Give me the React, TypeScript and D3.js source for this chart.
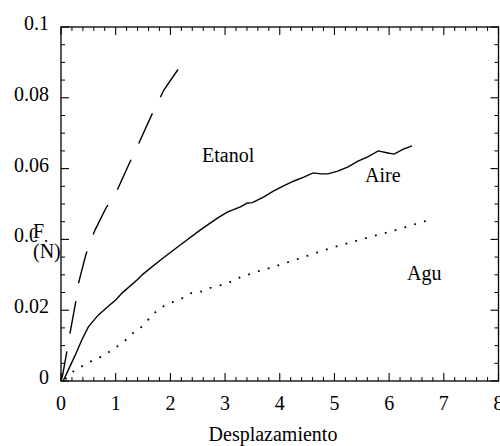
import React from "react";
import * as d3 from "d3";

const W = 500;
const H = 446;

const xTickLabels = ["0", "1", "2", "3", "4", "5", "6", "7", "8"];
const yTickValues = [0, 0.02, 0.04, 0.06, 0.08, 0.1];
const yTickLabels = ["0", "0.02", "0.04", "0.06", "0.08", "0.1"];

// Etanol (dashed)
const etanolX = [0.0, 0.024, 0.123, 0.165, 0.27, 0.306, 0.453, 0.55, 0.624, 0.82, 1.01, 1.25, 1.4, 1.65, 1.8, 1.88, 2.14];
const etanolY = [0.0, 0.0012, 0.0097, 0.0135, 0.0224, 0.0268, 0.0356, 0.04, 0.0427, 0.0488, 0.0533, 0.0615, 0.0664, 0.0749, 0.0796, 0.0822, 0.088];

// Aire (solid)
const aireX = [0.04, 0.13, 0.26, 0.38, 0.5, 0.68, 0.87, 1.0, 1.12, 1.39, 1.5, 1.82, 2.18, 2.55, 2.86, 3.04, 3.28, 3.41, 3.5, 3.71, 3.89, 4.07, 4.26, 4.44, 4.61, 4.75, 4.88, 5.06, 5.25, 5.43, 5.61, 5.8, 5.98, 6.09, 6.26, 6.42];
const aireY = [0.0, 0.003, 0.0073, 0.0116, 0.0153, 0.0186, 0.0212, 0.0229, 0.0249, 0.0285, 0.0302, 0.0342, 0.0384, 0.0427, 0.046, 0.0477, 0.0492, 0.0503, 0.0504, 0.052, 0.0537, 0.0551, 0.0565, 0.0576, 0.0588, 0.0585, 0.0585, 0.0593, 0.0605, 0.0621, 0.0633, 0.065, 0.0644, 0.0641, 0.0655, 0.0664];

// Agua (dotted)
const aguaX = [0.08, 0.26, 0.43, 0.59, 0.77, 0.95, 1.14, 1.32, 1.49, 1.67, 1.85, 2.04, 2.22, 2.4, 2.59, 2.73, 2.92, 3.1, 3.28, 3.47, 3.65, 3.83, 4.2, 4.57, 4.9, 5.27, 5.63, 6.0, 6.37, 6.73];
const aguaY = [0.0005, 0.0031, 0.0045, 0.0059, 0.0071, 0.009, 0.011, 0.0136, 0.0155, 0.0186, 0.0209, 0.0223, 0.0234, 0.0249, 0.0254, 0.0263, 0.0271, 0.028, 0.0293, 0.0303, 0.0312, 0.032, 0.0338, 0.0357, 0.0374, 0.039, 0.0406, 0.0421, 0.0438, 0.0455];

const seriesLabels = ["Etanol", "Aire", "Agu"];

const FONT = "Liberation Serif, Times New Roman, DejaVu Serif, serif";
const textStyle = { fontFamily: FONT, fontSize: "20px" };

export default function App() {
  const x = d3.scaleLinear().domain([0, 8]).range([61, 498.5]);
  const y = d3.scaleLinear().domain([0, 0.1]).range([381, 27]);

  const toPts = (xs: number[], ys: number[]) => xs.map((v, i) => [v, ys[i]] as [number, number]);
  const line = d3.line<[number, number]>().x((d) => x(d[0])).y((d) => y(d[1]));
  const smooth = d3
    .line<[number, number]>()
    .x((d) => x(d[0]))
    .y((d) => y(d[1]))
    .curve(d3.curveMonotoneX);

  const xMajor = d3.range(0, 8.001, 1);
  const xMinor = d3.range(0, 8.001, 0.2).filter((v) => Math.abs(v - Math.round(v)) > 1e-6);
  const yMajor = yTickValues;
  const yMinor = d3.range(0, 0.1001, 0.005).filter((v) => Math.abs(v / 0.02 - Math.round(v / 0.02)) > 1e-6);

  const [x0, x1] = x.range();
  const [y0, y1] = y.range();

  // dashes begin at the curve's upper end
  const etanolPts = toPts(etanolX, etanolY).reverse();

  return (
    <svg width={W} height={H} style={{ position: "absolute", left: 0, top: 0, background: "#fff" }}>
      <rect x={0} y={0} width={W} height={H} fill="#fff" />
      {/* frame */}
      <rect x={x0} y={y1} width={x1 - x0} height={y0 - y1} fill="none" stroke="#000" strokeWidth={1.3} />
      {/* x ticks bottom and top */}
      {xMajor.map((v) => (
        <g key={"xm" + v}>
          <line x1={x(v)} x2={x(v)} y1={y0} y2={y0 - 8} stroke="#000" strokeWidth={1.1} />
          <line x1={x(v)} x2={x(v)} y1={y1} y2={y1 + 8} stroke="#000" strokeWidth={1.1} />
        </g>
      ))}
      {xMinor.map((v) => (
        <g key={"xn" + v}>
          <line x1={x(v)} x2={x(v)} y1={y0} y2={y0 - 4} stroke="#000" strokeWidth={1} />
          <line x1={x(v)} x2={x(v)} y1={y1} y2={y1 + 4} stroke="#000" strokeWidth={1} />
        </g>
      ))}
      {/* y ticks left and right */}
      {yMajor.map((v) => (
        <g key={"ym" + v}>
          <line x1={x0} x2={x0 + 8} y1={y(v)} y2={y(v)} stroke="#000" strokeWidth={1.1} />
          <line x1={x1} x2={x1 - 8} y1={y(v)} y2={y(v)} stroke="#000" strokeWidth={1.1} />
        </g>
      ))}
      {yMinor.map((v) => (
        <g key={"yn" + v}>
          <line x1={x0} x2={x0 + 4} y1={y(v)} y2={y(v)} stroke="#000" strokeWidth={1} />
          <line x1={x1} x2={x1 - 4} y1={y(v)} y2={y(v)} stroke="#000" strokeWidth={1} />
        </g>
      ))}
      {/* x tick labels */}
      {xMajor.map((v, i) => (
        <text key={"xl" + v} x={x(v)} y={410} textAnchor="middle" style={textStyle} fill="#000">
          {xTickLabels[i]}
        </text>
      ))}
      {/* y tick labels */}
      {yMajor.map((v, i) => (
        <text key={"yl" + v} x={49} y={y(v) + 3} textAnchor="end" style={textStyle} fill="#000">
          {yTickLabels[i]}
        </text>
      ))}
      {/* curves */}
      <path d={line(etanolPts) || ""} fill="none" stroke="#000" strokeWidth={1.4} strokeDasharray="33,18" />
      <path d={line(toPts(aireX, aireY)) || ""} fill="none" stroke="#000" strokeWidth={1.4} />
      <path d={smooth(toPts(aguaX, aguaY)) || ""} fill="none" stroke="#000" strokeWidth={1.8} strokeDasharray="1.8,8.4" />
      {/* series labels */}
      <text x={202} y={162} style={textStyle} fill="#000">{seriesLabels[0]}</text>
      <text x={365} y={182} style={textStyle} fill="#000">{seriesLabels[1]}</text>
      <text x={407} y={280} style={textStyle} fill="#000">{seriesLabels[2]}</text>
      {/* y axis title, with opaque background */}
      <rect x={35} y={222} width={14} height={18} fill="#fff" />
      <text x={33} y={238} style={textStyle} fill="#000">F</text>
      <text x={33} y={258} style={textStyle} fill="#000">(N)</text>
      {/* x axis title */}
      <text x={273} y={441} textAnchor="middle" style={textStyle} fill="#000">Desplazamiento</text>
    </svg>
  );
}
